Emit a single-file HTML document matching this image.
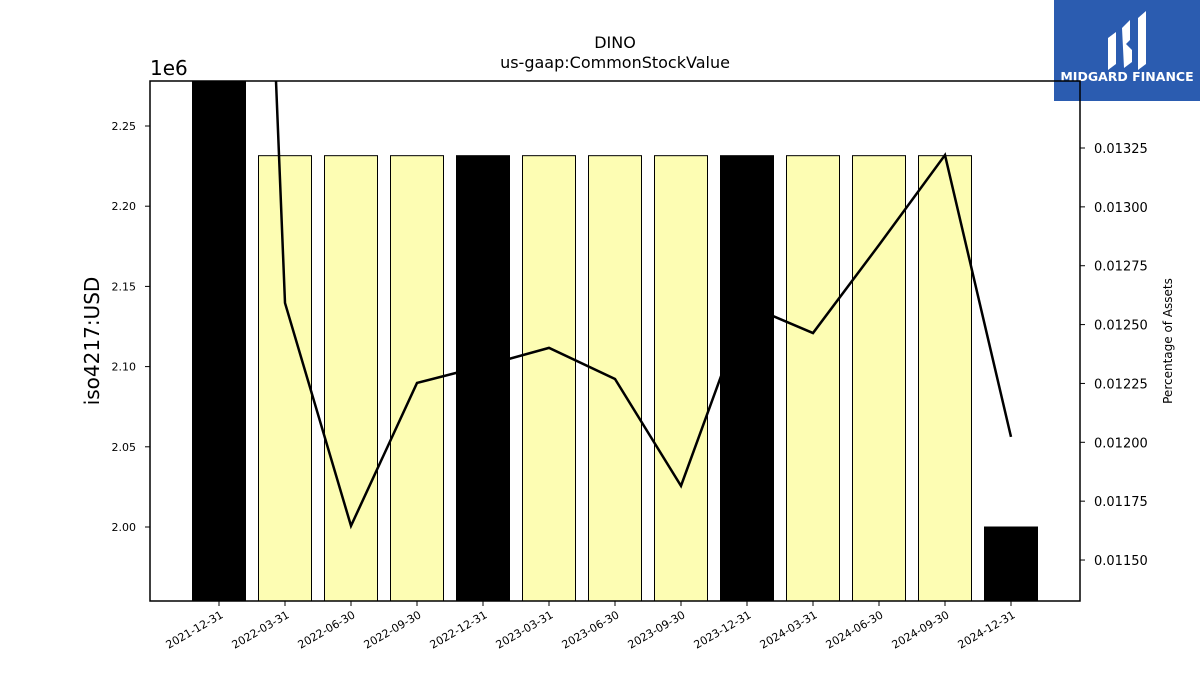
<!DOCTYPE html>
<html><head><meta charset="utf-8"><style>
body{margin:0;background:#fff;}
svg text{font-family:"DejaVu Sans","Liberation Sans",sans-serif;}
</style></head><body>
<svg id="c" width="1200" height="675" xmlns="http://www.w3.org/2000/svg">
<rect x="1054" y="0" width="146" height="101" fill="#2b5cb0"/>
<g fill="#fff">
<path d="M1108 38 L1116 32 L1116 64 L1108 70 Z"/>
<path d="M1122 28 L1130 20 L1130 40 L1126 44 L1132 50 L1132 62 L1124 68 Z"/>
<path d="M1138 18 L1146 11 L1146 64 L1138 70 Z"/>
</g>
<text x="1127" y="81" fill="#fff" font-size="12.5" font-weight="bold" text-anchor="middle">MIDGARD FINANCE</text>
<text x="615" y="48" font-size="16" text-anchor="middle">DINO</text>
<text x="615" y="68" font-size="16" text-anchor="middle">us-gaap:CommonStockValue</text>
<text x="150" y="75" font-size="20">1e6</text>
<text transform="translate(99,341) rotate(-90)" font-size="20" text-anchor="middle">iso4217:USD</text>
<text transform="translate(1172,341) rotate(-90)" font-size="12" text-anchor="middle">Percentage of Assets</text>
<g id="plot"></g>
<rect x="150" y="81" width="930" height="520" fill="none" stroke="#000" stroke-width="1.5"/>
</svg>
<script>
const categories=["2021-12-31","2022-03-31","2022-06-30","2022-09-30","2022-12-31","2023-03-31","2023-06-30","2023-09-30","2023-12-31","2024-03-31","2024-06-30","2024-09-30","2024-12-31"];
const values=[2.40,2.2315,2.2315,2.2315,2.2315,2.2315,2.2315,2.2315,2.2315,2.2315,2.2315,2.2315,2.00];
const annual=[true,false,false,false,true,false,false,false,true,false,false,false,true];
const pct=[0.0195,0.012592,0.011645,0.012252,0.012324,0.012401,0.012269,0.011815,0.012583,0.012464,0.012838,0.01322,0.012023];
const yTicks=[2.00,2.05,2.10,2.15,2.20,2.25];
const y2Ticks=[0.0115,0.01175,0.012,0.01225,0.0125,0.01275,0.013,0.01325];
const NS="http://www.w3.org/2000/svg";
const g=document.getElementById('plot');
const L=150,R=1080,T=81,B=601;
const x=i=>219+66*i;
const y=v=>527-(v-2.0)*1604;
const y2=v=>148+(0.01325-v)/0.00025*58.86;
function mk(t,a){const e=document.createElementNS(NS,t);for(const k in a)e.setAttribute(k,a[k]);g.appendChild(e);return e;}
const clip=mk('clipPath',{id:'cp'});const cr=document.createElementNS(NS,'rect');
cr.setAttribute('x',L);cr.setAttribute('y',T);cr.setAttribute('width',R-L);cr.setAttribute('height',B-T);clip.appendChild(cr);
categories.forEach((c,i)=>{
 const top=Math.max(y(values[i]),T);
 const b=mk('rect',{x:x(i)-26.5,y:top,width:53,height:B-top,fill:annual[i]?'#000':'#fdfdb3',stroke:'#000','stroke-width':1});
 
 
 mk('line',{x1:x(i),x2:x(i),y1:B,y2:B+5,stroke:'#000'});
 const t=mk('text',{transform:`translate(${x(i)+5},${B+16}) rotate(-30)`,'font-size':11,'text-anchor':'end'});
 t.textContent=c;
 
 
});
yTicks.forEach(v=>{
 mk('line',{x1:L-5,x2:L,y1:y(v),y2:y(v),stroke:'#000'});
 const t=mk('text',{x:L-14,y:y(v)+4,'font-size':11,'text-anchor':'end'});t.textContent=v.toFixed(2);
 
 
});
y2Ticks.forEach(v=>{
 mk('line',{x1:R,x2:R+5,y1:y2(v),y2:y2(v),stroke:'#000'});
 const t=mk('text',{x:R+14,y:y2(v)+5,'font-size':13});t.textContent=v.toFixed(5);
 
 
});
const ln=mk('polyline',{points:pct.map((v,i)=>x(i)+','+y2(v)).join(' '),fill:'none',stroke:'#000','stroke-width':2.5,'clip-path':'url(#cp)'});


</script>
</body></html>
